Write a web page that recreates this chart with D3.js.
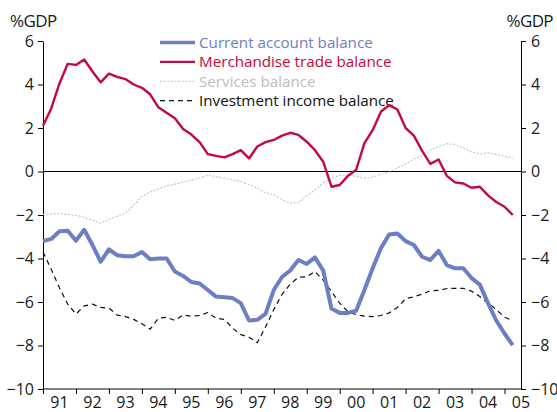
<!DOCTYPE html>
<html>
<head>
<meta charset="utf-8">
<script src="https://cdn.jsdelivr.net/npm/d3@7"></script>
<style>
  body { margin: 0; background: #fff; }
  text { font-family: "Open Sans", sans-serif; }
</style>
</head>
<body>
<div id="chart"></div>
<script>
// quarterly data, 1991 Q1 to 2005 Q2, % of GDP
var startYear = 1991;
var yearLabels = ['91','92','93','94','95','96','97','98','99','00','01','02','03','04','05'];

var currentAccount = [
  -3.2, -3.1, -2.75, -2.72, -3.18, -2.68, -3.38, -4.15, -3.58, -3.85,
  -3.9, -3.9, -3.7, -4.03, -4.0, -4.0, -4.6, -4.8, -5.08, -5.15,
  -5.45, -5.75, -5.78, -5.82, -6.05, -6.85, -6.82, -6.55, -5.45, -4.85,
  -4.55, -4.07, -4.25, -3.95, -4.55, -6.3, -6.5, -6.5, -6.4, -5.45,
  -4.45, -3.53, -2.9, -2.85, -3.2, -3.38, -3.92, -4.07, -3.65, -4.3,
  -4.45, -4.45, -4.9, -5.2, -6.05, -6.85, -7.45, -7.98
];

var merchandise = [
  2.1, 2.9, 4.05, 4.95, 4.9, 5.15, 4.6, 4.1, 4.5, 4.35,
  4.25, 4.0, 3.85, 3.55, 2.95, 2.7, 2.45, 1.95, 1.7, 1.35,
  0.8, 0.72, 0.65, 0.8, 0.98, 0.6, 1.15, 1.35, 1.45, 1.65,
  1.78, 1.68, 1.37, 0.98, 0.45, -0.7, -0.62, -0.2, 0.08, 1.3,
  1.9, 2.75, 3.05, 2.85, 2.0, 1.65, 0.95, 0.35, 0.55, -0.2,
  -0.5, -0.55, -0.75, -0.7, -1.1, -1.4, -1.62, -2.0
];

var services = [
  -1.98, -1.95, -1.93, -1.98, -2.02, -2.1, -2.25, -2.38, -2.2, -2.05,
  -1.92, -1.55, -1.15, -0.95, -0.8, -0.66, -0.58, -0.5, -0.4, -0.3,
  -0.17, -0.24, -0.31, -0.38, -0.46, -0.6, -0.76, -0.98, -1.07, -1.3,
  -1.45, -1.42, -1.12, -0.86, -0.52, -0.3, -0.18, -0.16, -0.22, -0.3,
  -0.26, -0.13, -0.04, 0.16, 0.35, 0.58, 0.72, 0.98, 1.15, 1.28,
  1.23, 1.08, 0.9, 0.8, 0.86, 0.78, 0.7, 0.6
];

var investment = [
  -3.7, -4.5, -5.35, -6.1, -6.55, -6.18, -6.1, -6.25, -6.28, -6.6,
  -6.67, -6.8, -7.0, -7.25, -6.75, -6.7, -6.85, -6.6, -6.65, -6.62,
  -6.48, -6.75, -6.8, -7.2, -7.5, -7.62, -7.87, -7.15, -6.35, -5.65,
  -5.18, -4.86, -4.84, -4.6, -5.0, -5.52, -6.05, -6.45, -6.58, -6.65,
  -6.67, -6.62, -6.5, -6.25, -5.85, -5.76, -5.64, -5.48, -5.47, -5.38,
  -5.37, -5.37, -5.5, -5.75, -6.05, -6.35, -6.7, -6.86
];

var seriesNames = ['Current account balance', 'Merchandise trade balance', 'Services balance', 'Investment income balance'];
var yTicks = [6, 4, 2, 0, -2, -4, -6, -8, -10];

var width = 557;
var height = 412;
var margin = ({top: 41, right: 36, bottom: 23, left: 43});

var periods = currentAccount.map((d, i) => startYear + i / 4);

var x = d3.scaleLinear()
    .domain([startYear, startYear + yearLabels.length - 0.5])
    .range([margin.left, width - margin.right]);
var y = d3.scaleLinear()
    .domain([-10, 6])
    .range([height - margin.bottom, margin.top]);

var styles = [
  {data: currentAccount, color: '#6b7fc2', text: '#6b7fc2', width: 4, dash: null},
  {data: merchandise, color: '#c20a40', text: '#c20a40', width: 2.4, dash: null},
  {data: services, color: '#c4c4c4', text: '#bdbdbd', width: 1.1, dash: '2,1.6'},
  {data: investment, color: '#111', text: '#111', width: 1.2, dash: '5,4'}
];

function drawChart() {
  const svg = d3.select('#chart')
    .append('svg')
      .attr('width', width)
      .attr('height', height);

  // axes
  const yearTicks = yearLabels.map((d, i) => startYear + i);

  const xAxis = svg.append('g')
      .attr('transform', `translate(0, ${y(-10)})`)
      .call(d3.axisBottom(x).tickValues(yearTicks).tickSize(5).tickFormat(''));
  xAxis.select('.domain').attr('stroke', '#000').attr('d', `M${x.range()[0]},0H${x.range()[1]}`);

  svg.append('g')
    .selectAll('text')
    .data(yearLabels)
    .join('text')
      .attr('x', (d, i) => x(startYear + i + 0.5))
      .attr('y', 408)
      .attr('text-anchor', 'middle')
      .attr('font-size', 16)
      .attr('fill', '#1a1a1a')
      .text(d => d);

  const yLeft = svg.append('g')
      .attr('transform', `translate(${margin.left}, 0)`)
      .call(d3.axisLeft(y).tickValues(yTicks).tickSize(5).tickSizeOuter(0).tickPadding(4));
  const yRight = svg.append('g')
      .attr('transform', `translate(${width - margin.right}, 0)`)
      .call(d3.axisRight(y).tickValues(yTicks).tickSize(5).tickSizeOuter(0).tickPadding(5));
  [yLeft, yRight].forEach(a => {
    a.selectAll('text').attr('font-size', 16).attr('fill', '#1a1a1a').attr('font-family', '"Open Sans", sans-serif');
    a.select('.domain').attr('stroke', '#000');
  });

  svg.append('text')
      .attr('x', 10)
      .attr('y', 27)
      .attr('font-size', 17)
      .attr('letter-spacing', -0.6)
      .attr('fill', '#1a1a1a')
      .text('%GDP');
  svg.append('text')
      .attr('x', 553)
      .attr('y', 27)
      .attr('text-anchor', 'end')
      .attr('font-size', 17)
      .attr('letter-spacing', -0.6)
      .attr('fill', '#1a1a1a')
      .text('%GDP');

  // zero line
  svg.append('line')
      .attr('x1', x.range()[0])
      .attr('x2', x.range()[1])
      .attr('y1', y(0))
      .attr('y2', y(0))
      .attr('stroke', '#000')
      .attr('stroke-width', 1);

  // legend
  const legend = svg.append('g')
    .selectAll('g')
    .data(styles)
    .join('g')
      .attr('transform', (d, i) => `translate(160, ${42.5 + i * 19.4})`);
  legend.append('line')
      .attr('x1', 0)
      .attr('x2', 35)
      .attr('stroke', d => d.color)
      .attr('stroke-width', d => Math.min(d.width, 3.5))
      .attr('stroke-dasharray', d => d.dash);
  legend.append('text')
      .attr('x', 39)
      .attr('dy', '0.35em')
      .attr('font-size', 15.2)
      .attr('fill', d => d.text)
      .text((d, i) => seriesNames[i]);

  // lines, back to front
  const line = d3.line()
      .x((d, i) => x(periods[i]))
      .y(d => y(d));

  [2, 3, 1, 0].forEach(k => {
    svg.append('path')
        .datum(styles[k].data)
        .attr('fill', 'none')
        .attr('stroke', styles[k].color)
        .attr('stroke-width', styles[k].width)
        .attr('stroke-linejoin', 'round')
        .attr('stroke-dasharray', styles[k].dash)
        .attr('d', line);
  });

  return svg.node();
}

window.onload = drawChart;
</script>
</body>
</html>
